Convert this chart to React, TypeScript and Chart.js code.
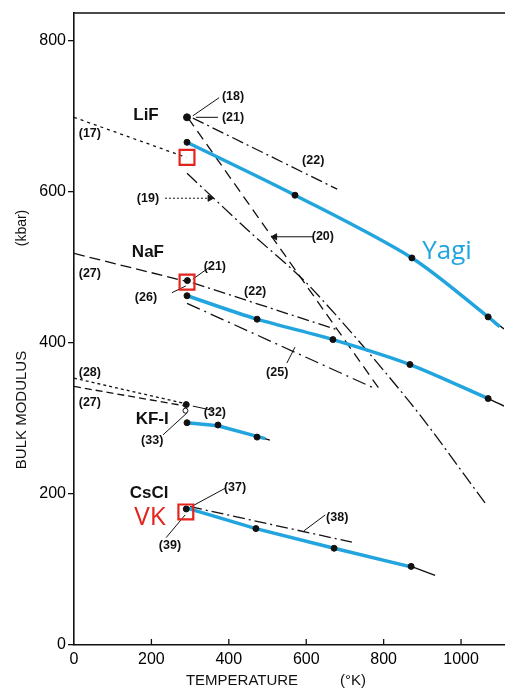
import React, { useEffect, useRef } from "react";
import { Chart, registerables } from "chart.js";
Chart.register(...registerables);

// ---------------- data (temperature in K, bulk modulus in kbar) ----------------
// LiF
const lifYagiT = [292, 571, 873, 1070, 1100];
const lifYagiB = [665, 595, 512, 434, 421];
const lifFitT = [292, 571, 873, 1070, 1111];
const lifFitB = [665, 595, 512, 434, 418];
const lifDotT = [292, 571, 873, 1070];
const lifDotB = [665, 595, 512, 434];
const lif17T = [0, 290];
const lif17B = [698, 645];
const lif22T = [307, 680];
const lif22B = [697, 603];
const lif20T = [295, 791];
const lif20B = [697, 337];
const lif19T = [292, 455, 610, 868, 1062];
const lif19B = [624, 546, 474, 321, 188];
const lifRefT = [292];
const lifRefB = [698];
// NaF
const nafYagiT = [292, 473, 669, 868, 1070, 1075];
const nafYagiB = [462, 431, 404, 371, 326, 325];
const nafFitT = [292, 473, 669, 868, 1070, 1111];
const nafFitB = [462, 431, 404, 371, 326, 316];
const nafDotT = [292, 473, 669, 868, 1070];
const nafDotB = [462, 431, 404, 371, 326];
const naf27T = [0, 290];
const naf27B = [518, 481];
const naf22T = [307, 680];
const naf22B = [479, 417];
const naf25T = [292, 770];
const naf25B = [452, 341];
const nafRefT = [293];
const nafRefB = [482];
// KF-I
const kfYagiT = [292, 372, 473, 494];
const kfYagiB = [294, 290, 276, 273];
const kfFitT = [292, 372, 473, 506];
const kfFitB = [294, 290, 276, 271];
const kfDotT = [292, 372, 473];
const kfDotB = [294, 291, 275];
const kf28T = [0, 290];
const kf28B = [353, 319];
const kf27T = [0, 290];
const kf27B = [342, 316];
const kf32T = [290];
const kf32B = [318];
const kf33T = [288];
const kf33B = [310];
// CsCl
const csYagiT = [292, 470, 672, 873];
const csYagiB = [181, 154, 128, 103];
const csFitT = [292, 470, 672, 871, 933];
const csFitB = [181, 154, 128, 104, 92];
const csDotT = [290, 470, 672, 871];
const csDotB = [180, 154, 128, 104];
const cs38T = [300, 718];
const cs38B = [183, 136];
// highlighted 300 K values (red boxes)
const boxT = [292, 292, 289];
const boxB = [645, 480, 176];
// leader lines from reference numbers to marks
const leaderT1 = [375, 372, 351, 253, 550, 362, 230, 393, 238, 649];
const leaderB1 = [724, 698, 500, 466, 373, 310, 278, 208, 142, 172];
const leaderT2 = [307, 315, 307, 289, 571, 307, 292, 310, 287, 594];
const leaderB2 = [700, 698, 484, 475, 394, 316, 307, 185, 172, 151];
// arrows (19) and (20)
const arrow19T = [235, 351];
const arrow19B = [591, 591];
const arrow20T = [618, 519];
const arrow20B = [540, 540];
// text labels
const refText = ["(18)", "(21)", "(17)", "(22)", "(19)", "(20)", "(21)", "(27)", "(22)", "(26)", "(25)", "(28)", "(27)", "(32)", "(33)", "(37)", "(39)", "(38)"];
const refT = [411, 411, 41, 618, 191, 643, 364, 41, 468, 186, 525, 41, 41, 364, 202, 416, 248, 680];
const refB = [725, 698, 677, 641, 591, 540, 500, 492, 467, 459, 360, 360, 321, 308, 270, 208, 131, 169];
const saltText = ["LiF", "NaF", "KF-I", "CsCl"];
const saltT = [186, 191, 202, 194];
const saltB = [701, 520, 298, 201];
const yagiLabelT = 964;
const yagiLabelB = 520;
const vkLabelT = 196;
const vkLabelB = 168;
// axis ticks
const xTicks = [0, 200, 400, 600, 800, 1000];
const yTicks = [0, 200, 400, 600, 800];

// ---------------- styling ----------------
const BLUE = "#22a5de";
const RED = "#e3231d";
const INK = "#111111";
const FONT = "'Liberation Sans', Arial, sans-serif";

const pts = (t: number[], b: number[]) => t.map((x, i) => ({ x, y: b[i] }));

function line(t: number[], b: number[], o: any = {}) {
  return {
    data: pts(t, b),
    showLine: true,
    borderColor: o.color || INK,
    borderWidth: o.width || 1.3,
    borderDash: o.dash || [],
    pointRadius: o.pointRadius ?? 0,
    pointStyle: o.pointStyle,
    pointRotation: o.rotation || 0,
    pointBackgroundColor: o.color || INK,
    pointBorderColor: o.color || INK,
    tension: o.tension || 0,
    order: o.order ?? 3,
    fill: false,
  };
}

function dots(t: number[], b: number[], o: any = {}) {
  return {
    data: pts(t, b),
    showLine: false,
    pointRadius: o.r ?? 3,
    pointStyle: o.style || "circle",
    pointBackgroundColor: o.fill || INK,
    pointBorderColor: o.border || INK,
    pointBorderWidth: o.bw ?? 1,
    order: o.order ?? 1,
  };
}

const textPlugin = {
  id: "annotText",
  afterDraw(chart: any) {
    const { ctx, scales, chartArea } = chart;
    const X = (v: number) => scales.x.getPixelForValue(v);
    const Y = (v: number) => scales.y.getPixelForValue(v);
    ctx.save();
    // top border
    ctx.strokeStyle = INK;
    ctx.lineWidth = 1.4;
    ctx.beginPath();
    ctx.moveTo(chartArea.left, chartArea.top);
    ctx.lineTo(chartArea.right + 1, chartArea.top);
    ctx.stroke();
    // inward x ticks
    ctx.lineWidth = 1.3;
    xTicks.slice(1).forEach((v) => {
      ctx.beginPath();
      ctx.moveTo(X(v), chartArea.bottom);
      ctx.lineTo(X(v), chartArea.bottom - 6);
      ctx.stroke();
    });
    ctx.textAlign = "center";
    ctx.textBaseline = "middle";
    ctx.fillStyle = INK;
    // reference numbers
    ctx.font = "bold 12.5px " + FONT;
    refText.forEach((s, i) => ctx.fillText(s, X(refT[i]), Y(refB[i])));
    // salt names
    ctx.font = "bold 17px " + FONT;
    saltText.forEach((s, i) => ctx.fillText(s, X(saltT[i]), Y(saltB[i])));
    // Yagi / VK
    ctx.font = "26px 'Open Sans', sans-serif";
    ctx.fillStyle = BLUE;
    ctx.fillText("Yagi", X(yagiLabelT), Y(yagiLabelB));
    ctx.font = "26px 'Open Sans', sans-serif";
    ctx.fillStyle = RED;
    ctx.fillText("VK", X(vkLabelT), Y(vkLabelB));
    // axis titles
    ctx.fillStyle = INK;
    ctx.font = "15px " + FONT;
    ctx.fillText("TEMPERATURE", 242, 681);
    ctx.fillText("(°K)", 353, 681);
    ctx.save();
    ctx.translate(22, 410);
    ctx.rotate(-Math.PI / 2);
    ctx.fillText("BULK MODULUS", 0, 0);
    ctx.restore();
    ctx.save();
    ctx.translate(22, 228);
    ctx.rotate(-Math.PI / 2);
    ctx.font = "14px " + FONT;
    ctx.fillText("(kbar)", 0, 0);
    ctx.restore();
    ctx.restore();
  },
};

export default function App() {
  const ref = useRef<HTMLCanvasElement>(null);
  useEffect(() => {
    const datasets: any[] = [
      // black fitted lines (original figure)
      line(lifFitT, lifFitB, { tension: 0.3, width: 1.4 }),
      line(nafFitT, nafFitB, { tension: 0.3, width: 1.4 }),
      line(kfFitT, kfFitB, { width: 1.4 }),
      line(csFitT, csFitB, { width: 1.4 }),
      // other references
      line(lif17T, lif17B, { dash: [3, 4] }),
      line(lif22T, lif22B, { dash: [12, 4, 2, 4] }),
      line(lif20T, lif20B, { dash: [10, 6] }),
      line(lif19T, lif19B, { dash: [14, 4, 2, 4], tension: 0.3 }),
      line(naf27T, naf27B, { dash: [11, 5] }),
      line(naf22T, naf22B, { dash: [12, 4, 2, 4] }),
      line(naf25T, naf25B, { dash: [14, 5, 2, 5] }),
      line(kf28T, kf28B, { dash: [3, 3] }),
      line(kf27T, kf27B, { dash: [7, 4] }),
      line(cs38T, cs38B, { dash: [12, 4, 2, 4] }),
      // leaders
      ...leaderT1.map((t, i) => line([t, leaderT2[i]], [leaderB1[i], leaderB2[i]], { width: 1 })),
      line(arrow19T, arrow19B, { dash: [2, 2], width: 1, pointRadius: [0, 3.5], pointStyle: "triangle", rotation: 90 }),
      line(arrow20T, arrow20B, { width: 1, pointRadius: [0, 3.5], pointStyle: "triangle", rotation: 270 }),
      // blue Yagi lines
      line(lifYagiT, lifYagiB, { color: BLUE, width: 3.5, tension: 0.3, order: 2 }),
      line(nafYagiT, nafYagiB, { color: BLUE, width: 3.5, tension: 0.3, order: 2 }),
      line(kfYagiT, kfYagiB, { color: BLUE, width: 3.5, order: 2 }),
      line(csYagiT, csYagiB, { color: BLUE, width: 3.5, order: 2 }),
      // data points
      dots(lifDotT, lifDotB),
      dots(nafDotT, nafDotB),
      dots(kfDotT, kfDotB),
      dots(csDotT, csDotB),
      dots(lifRefT, lifRefB, { r: 3.5 }),
      dots(nafRefT, nafRefB, { r: 3 }),
      dots(kf32T, kf32B, { r: 3 }),
      dots(kf33T, kf33B, { r: 2.5, fill: "#ffffff" }),
      // red boxes
      {
        data: pts(boxT, boxB),
        showLine: false,
        pointStyle: "rect",
        pointRadius: 10.5,
        pointBackgroundColor: "rgba(0,0,0,0)",
        pointBorderColor: RED,
        pointBorderWidth: 2.2,
        order: 0,
      },
    ];
    const chart = new Chart(ref.current as HTMLCanvasElement, {
      type: "scatter",
      data: { datasets },
      options: {
        animation: false,
        responsive: false,
        devicePixelRatio: 1,
        events: [],
        layout: { autoPadding: false, padding: { top: 13, right: 1, left: 0, bottom: 0 } },
        plugins: { legend: { display: false }, tooltip: { enabled: false } },
        scales: {
          x: {
            type: "linear",
            min: 0,
            max: 1111,
            afterBuildTicks: (s: any) => {
              s.ticks = xTicks.map((v) => ({ value: v }));
            },
            afterFit: (s: any) => {
              s.height = 43;
              s.paddingLeft = 0;
              s.paddingRight = 0;
            },
            ticks: {
              includeBounds: false,
              autoSkip: false,
              maxRotation: 0,
              padding: 5,
              color: "#000",
              font: { family: FONT, size: 16 },
              callback: (v: any) => String(v),
            },
            grid: { display: true, drawOnChartArea: false, drawTicks: false, color: INK },
            border: { display: true, color: INK, width: 1.6 },
          },
          y: {
            type: "linear",
            min: 0,
            max: 836,
            afterBuildTicks: (s: any) => {
              s.ticks = yTicks.map((v) => ({ value: v }));
            },
            afterFit: (s: any) => {
              s.width = 74;
              s.paddingTop = 0;
              s.paddingBottom = 0;
            },
            ticks: {
              includeBounds: false,
              autoSkip: false,
              padding: 2,
              color: "#000",
              font: { family: FONT, size: 16 },
              callback: (v: any) => String(v),
            },
            grid: { display: true, drawOnChartArea: false, drawTicks: true, tickLength: 6, color: INK, lineWidth: 1.3 },
            border: { display: true, color: INK, width: 1.6 },
          },
        },
      },
      plugins: [textPlugin],
    });
    return () => chart.destroy();
  }, []);
  return (
    <div style={{ position: "fixed", left: 0, top: 0, width: 505, height: 688, background: "#fff" }}>
      <canvas ref={ref} width={505} height={688} style={{ width: 505, height: 688, display: "block" }} />
    </div>
  );
}
